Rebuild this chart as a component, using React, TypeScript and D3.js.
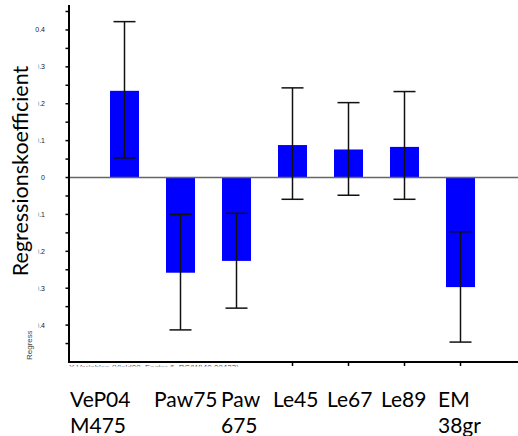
import React from "react";
import * as d3 from "d3";

const categories = ["VeP04M475", "Paw75", "Paw675", "Le45", "Le67", "Le89", "EM38gr"];
const labelLine1 = ["VeP04", "Paw75", "Paw", "Le45", "Le67", "Le89", "EM"];
const labelLine2 = ["M475", "", "675", "", "", "", "38gr"];
const coefficients = [0.235, -0.258, -0.226, 0.088, 0.076, 0.083, -0.297];
const errLow = [0.053, -0.413, -0.354, -0.059, -0.048, -0.059, -0.446];
const errHigh = [0.4225, -0.1, -0.097, 0.243, 0.203, 0.233, -0.147];
const majorTicks = [0.4, 0.3, 0.2, 0.1, 0, -0.1, -0.2, -0.3, -0.4];
const minorTicks = [0.45, 0.35, 0.25, 0.15, 0.05, -0.05, -0.15, -0.25, -0.35, -0.45];
const tickedCategories = ["Le45", "Le67", "Le89", "EM38gr"];

// layout only
const labelDx = [-54.5, -26.5, -15.5, -19.5, -21.5, -23.5, -22.5];

const W = 518;
const H = 436;
const axisX = 69;
const axisBottom = 362;
const axisTop = 5;

export default function App() {
  const y = d3.scaleLinear().domain([-0.5, 0.4676]).range([axisBottom, axisTop]);
  const x = d3.scalePoint<string>().domain(categories).range([124.5, 460.5]);
  const barW = 29;
  const capW = 22;
  const font = "Lato, 'Open Sans', sans-serif";

  return (
    <svg
      width={W}
      height={H}
      style={{ position: "fixed", left: 0, top: 0, background: "#fff" }}
    >
      <rect x={0} y={0} width={W} height={H} fill="#fff" />
      {/* tick labels */}
      {majorTicks.map((t) => (
        <text
          key={"tl" + t}
          x={45}
          y={y(t) + 2.5}
          fontSize={7}
          fontFamily="Arial, 'Liberation Sans', sans-serif"
          fill="#222"
          textAnchor="end"
        >
          {t === 0 ? "0" : t.toFixed(1)}
        </text>
      ))}
      {/* small original y title */}
      <text
        transform={`translate(31.5,360) rotate(-90)`}
        fontSize={8}
        fontFamily="Arial, 'Liberation Sans', sans-serif"
        fill="#444"
      >
        Regression Coefficients
      </text>
      {/* white box of the large title */}
      <rect x={0} y={37} width={38.5} height={294} fill="#fff" />
      <text
        transform={`translate(28,171) rotate(-90)`}
        fontSize={21.5}
        fontFamily={font}
        fill="#000"
        textAnchor="middle"
      >
        Regressionskoefficient
      </text>

      {/* bars */}
      {categories.map((c, i) => {
        const v = coefficients[i];
        return (
          <rect
            key={"b" + c}
            x={(x(c) as number) - barW / 2}
            y={y(Math.max(0, v))}
            width={barW}
            height={Math.abs(y(v) - y(0))}
            fill="#0000ff"
          />
        );
      })}
      {/* zero line */}
      <line x1={axisX} x2={W} y1={y(0)} y2={y(0)} stroke="#666" strokeWidth={1.6} />
      {/* error bars */}
      {categories.map((c, i) => {
        const cx = x(c) as number;
        return (
          <g key={"e" + c} stroke="#111" strokeWidth={1.5}>
            <line x1={cx} x2={cx} y1={y(errLow[i])} y2={y(errHigh[i])} />
            <line x1={cx - capW / 2} x2={cx + capW / 2} y1={y(errLow[i])} y2={y(errLow[i])} />
            <line x1={cx - capW / 2} x2={cx + capW / 2} y1={y(errHigh[i])} y2={y(errHigh[i])} />
          </g>
        );
      })}

      {/* small x title, partly hidden under the label box */}
      <text
        x={axisX}
        y={369.5}
        fontSize={8}
        fontFamily="Arial, 'Liberation Sans', sans-serif"
        fill="#444"
      >
        X Variables (Yield09, Factor 6, PC(W)40.09433)
      </text>
      {/* y axis */}
      <line x1={axisX} x2={axisX} y1={axisTop} y2={axisBottom + 1} stroke="#000" strokeWidth={2} />
      {majorTicks.concat(minorTicks).map((t) => (
        <line
          key={"tk" + t}
          x1={axisX - 3.5}
          x2={axisX}
          y1={y(t)}
          y2={y(t)}
          stroke="#000"
          strokeWidth={1.5}
        />
      ))}
      {/* x axis */}
      <line x1={axisX - 1} x2={W} y1={axisBottom} y2={axisBottom} stroke="#000" strokeWidth={2.2} />
      {tickedCategories.map((c) => (
        <line
          key={"xt" + c}
          x1={x(c) as number}
          x2={x(c) as number}
          y1={axisBottom}
          y2={axisBottom + 4}
          stroke="#000"
          strokeWidth={1.5}
        />
      ))}
      {/* category label box */}
      <rect x={axisX - 2} y={366.5} width={W - axisX + 2} height={H - 366.5} fill="#fff" />
      {categories.map((c, i) => {
        const lx = (x(c) as number) + labelDx[i];
        return (
          <g key={"l" + c}>
            <text x={lx} y={406.5} fontSize={21} fontFamily={font} fill="#000">
              {labelLine1[i]}
            </text>
            {labelLine2[i] && (
              <text x={lx} y={433} fontSize={21} fontFamily={font} fill="#000">
                {labelLine2[i]}
              </text>
            )}
          </g>
        );
      })}
    </svg>
  );
}
